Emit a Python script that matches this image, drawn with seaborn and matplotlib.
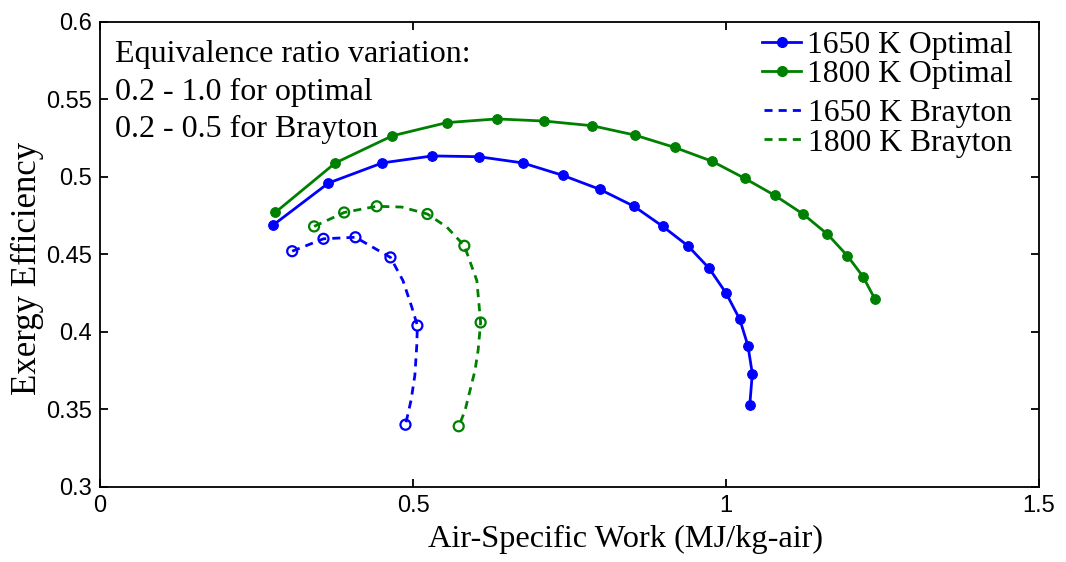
import matplotlib
matplotlib.use("Agg")
import matplotlib.pyplot as plt
import seaborn as sns
import numpy as np
from matplotlib.lines import Line2D

# ---------------- data ----------------
opt1650_x = [0.277, 0.365, 0.451, 0.531, 0.605, 0.675, 0.739, 0.798, 0.853, 0.899,
             0.939, 0.973, 1.000, 1.022, 1.035, 1.042, 1.038]
opt1650_y = [0.469, 0.496, 0.509, 0.5135, 0.513, 0.509, 0.501, 0.492, 0.481, 0.468,
             0.4555, 0.441, 0.425, 0.408, 0.391, 0.373, 0.353]

opt1800_x = [0.280, 0.376, 0.467, 0.554, 0.634, 0.710, 0.786, 0.854, 0.918, 0.978,
             1.030, 1.078, 1.123, 1.162, 1.194, 1.219, 1.238]
opt1800_y = [0.477, 0.509, 0.5265, 0.535, 0.5374, 0.536, 0.533, 0.527, 0.519, 0.510,
             0.499, 0.488, 0.476, 0.463, 0.449, 0.4355, 0.421]

# Brayton: marker points
bray1650_x = [0.307, 0.357, 0.408, 0.464, 0.507, 0.488]
bray1650_y = [0.452, 0.460, 0.461, 0.448, 0.404, 0.340]
bray1800_x = [0.342, 0.390, 0.442, 0.523, 0.582, 0.608, 0.573]
bray1800_y = [0.468, 0.477, 0.481, 0.476, 0.4555, 0.406, 0.339]

# Brayton: dashed curve path
bray1650_line_x = [0.307, 0.357, 0.408, 0.464, 0.484, 0.498, 0.507, 0.506, 0.503, 0.497, 0.488]
bray1650_line_y = [0.452, 0.460, 0.461, 0.448, 0.433, 0.416, 0.404, 0.391, 0.372, 0.356, 0.340]
bray1800_line_x = [0.342, 0.390, 0.442, 0.482, 0.523, 0.554, 0.582, 0.602, 0.608, 0.604,
                   0.599, 0.591, 0.583, 0.573]
bray1800_line_y = [0.468, 0.477, 0.481, 0.4805, 0.476, 0.4676, 0.4555, 0.433, 0.406, 0.388,
                   0.375, 0.362, 0.349, 0.339]

x_ticks = [0, 0.5, 1.0, 1.5]
x_tick_labels = ["0", "0.5", "1", "1.5"]
y_ticks = [0.3, 0.35, 0.4, 0.45, 0.5, 0.55, 0.6]
y_tick_labels = ["0.3", "0.35", "0.4", "0.45", "0.5", "0.55", "0.6"]

legend_opt = ["1650 K Optimal", "1800 K Optimal"]
legend_bray = ["1650 K Brayton", "1800 K Brayton"]
note_lines = ["Equivalence ratio variation:", "0.2 - 1.0 for optimal", "0.2 - 0.5 for Brayton"]

BLUE = "#0000FF"
GREEN = "#008000"
DASH = (0, (2.9, 2.2))

# ---------------- figure ----------------
fig = plt.figure(figsize=(10.66, 5.62), dpi=100)
ax = fig.add_axes([0.0938, 0.134, 0.8809, 0.827])

serif = "Liberation Serif"
sans = "Liberation Sans"

lw = 2.0
sns.lineplot(x=opt1650_x, y=opt1650_y, sort=False, estimator=None, ax=ax, color=BLUE,
             lw=lw, marker="o", markersize=7, markeredgecolor=BLUE)
sns.lineplot(x=opt1800_x, y=opt1800_y, sort=False, estimator=None, ax=ax, color=GREEN,
             lw=lw, marker="o", markersize=7, markeredgecolor=GREEN)
sns.lineplot(x=bray1650_line_x, y=bray1650_line_y, sort=False, estimator=None, ax=ax,
             color=BLUE, lw=lw, linestyle=DASH)
sns.lineplot(x=bray1800_line_x, y=bray1800_line_y, sort=False, estimator=None, ax=ax,
             color=GREEN, lw=lw, linestyle=DASH)
sns.scatterplot(x=bray1650_x, y=bray1650_y, ax=ax, marker="o", s=52,
                facecolors="none", edgecolor=BLUE, linewidth=1.6, zorder=5)
sns.scatterplot(x=bray1800_x, y=bray1800_y, ax=ax, marker="o", s=52,
                facecolors="none", edgecolor=GREEN, linewidth=1.6, zorder=5)

ax.set_xlim(0, 1.5)
ax.set_ylim(0.3, 0.6)
ax.set_xticks(x_ticks)
ax.set_xticklabels(x_tick_labels, fontfamily=sans, fontsize=17)
ax.set_yticks(y_ticks)
ax.set_yticklabels(y_tick_labels, fontfamily=sans, fontsize=17)
ax.tick_params(direction="in", top=True, right=True, length=6, width=1.3, pad=6)
for s in ax.spines.values():
    s.set_linewidth(1.3)
    s.set_color("black")

ax.set_xlabel("Air-Specific Work (MJ/kg-air)", fontfamily=serif, fontsize=23.3)
ax.xaxis.set_label_coords(0.560, -0.1127)
ax.xaxis.label.set_va("center")
ax.set_ylabel("Exergy Efficiency", fontfamily=serif, fontsize=25)
ax.yaxis.set_label_coords(-0.0772, 0.470)
ax.yaxis.label.set_va("center")

note_y = [0.914, 0.832, 0.7526]
for line, yy in zip(note_lines, note_y):
    ax.text(0.016, yy, line, transform=ax.transAxes, ha="left", va="baseline",
            fontfamily=serif, fontsize=23)

h1 = [Line2D([], [], color=BLUE, lw=lw, marker="o", markersize=7),
      Line2D([], [], color=GREEN, lw=lw, marker="o", markersize=7)]
leg_kw = dict(frameon=False, prop={"family": serif, "size": 22.8}, handlelength=1.25,
              handletextpad=0.16, labelspacing=0.0, borderpad=0.2, borderaxespad=0.2)
leg1 = ax.legend(h1, legend_opt, loc="upper right", bbox_to_anchor=(0.985, 1.0086), **leg_kw)
ax.add_artist(leg1)
h2 = [Line2D([], [], color=BLUE, lw=lw, linestyle=DASH),
      Line2D([], [], color=GREEN, lw=lw, linestyle=DASH)]
ax.legend(h2, legend_bray, loc="upper right", bbox_to_anchor=(0.985, 0.861), **leg_kw)

fig.savefig("out.png", dpi=100)
